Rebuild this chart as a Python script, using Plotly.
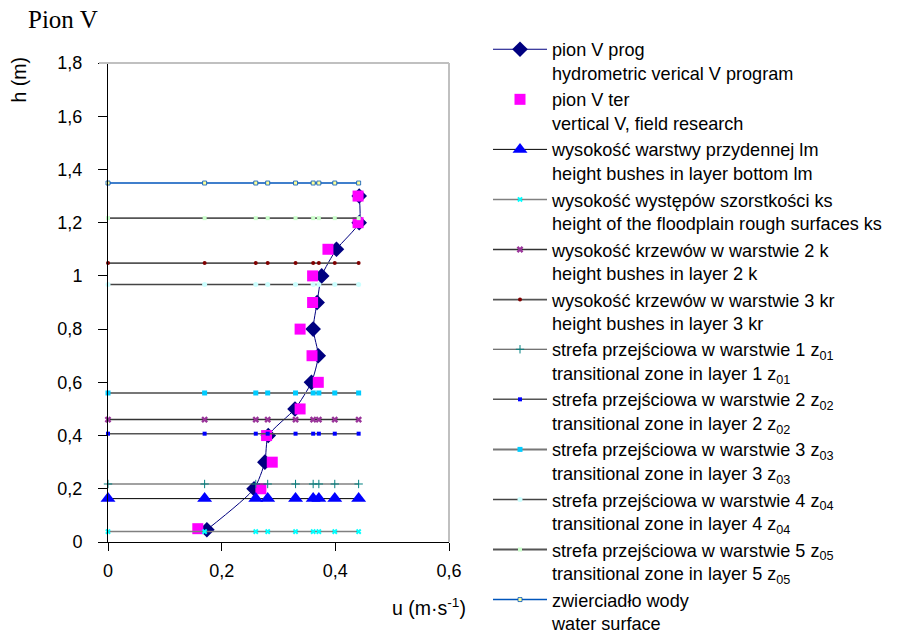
import plotly.graph_objects as go

# ---- data ----
u_levels = [0, 0.17, 0.26, 0.281, 0.33, 0.361, 0.371, 0.399, 0.441]

prog_u = [0.174, 0.257, 0.276, 0.282, 0.329, 0.358, 0.370, 0.361, 0.368, 0.376, 0.402, 0.442, 0.442]
prog_h = [0.046, 0.2, 0.3, 0.4, 0.5, 0.6, 0.7, 0.8, 0.9, 1.0, 1.1, 1.2, 1.3]

ter_u = [0.158, 0.269, 0.289, 0.279, 0.338, 0.370, 0.359, 0.338, 0.360, 0.360, 0.387, 0.440, 0.440]
ter_h = [0.05, 0.2, 0.3, 0.4, 0.5, 0.6, 0.7, 0.8, 0.9, 1.0, 1.1, 1.2, 1.3]

h_lm = 0.163
h_ks = 0.039
h_k = 0.46
h_kr = 1.048
h_z01 = 0.218
h_z02 = 0.407
h_z03 = 0.56
h_z04 = 0.968
h_z05 = 1.217
h_water = 1.349

x_ticks = [0, 0.2, 0.4, 0.6]
y_ticks = [0, 0.2, 0.4, 0.6, 0.8, 1.0, 1.2, 1.4, 1.6, 1.8]

FONT = "Liberation Sans, Arial, sans-serif"
LEG_FONT = 18.1

fig = go.Figure()

fig.add_trace(go.Scatter(
    x=prog_u, y=prog_h, mode="lines+markers",
    name="pion V prog<br>hydrometric verical V program",
    line=dict(color="#000080", width=1, shape="spline", smoothing=0.6),
    marker=dict(symbol="diamond", size=12, color="#000080"),
    cliponaxis=False, legend="legend"))

fig.add_trace(go.Scatter(
    x=ter_u, y=ter_h, mode="markers",
    name="pion V ter<br>vertical V, field research",
    marker=dict(symbol="square", size=11, color="#ff00ff"),
    cliponaxis=False, legend="legend"))

levels = [
    (h_lm, "wysokość warstwy przydennej lm<br>height bushes in layer bottom lm",
     "#000000", 1, dict(symbol="triangle-up", size=13, color="#0000ff")),
    (h_ks, "wysokość występów szorstkości ks<br>height of the floodplain rough surfaces ks",
     "#808080", 1.5, dict(symbol="x", size=5, color="#00ffff")),
    (h_k, "wysokość krzewów w warstwie 2 k<br>height bushes in layer 2 k",
     "#333333", 1.5, dict(symbol="x", size=6, color="#993399")),
    (h_kr, "wysokość krzewów w warstwie 3 kr<br>height bushes in layer 3 kr",
     "#555555", 1.8, dict(symbol="circle", size=4, color="#800000")),
    (h_z01, "strefa przejściowa w warstwie 1 z<sub>01</sub><br>transitional zone in layer 1 z<sub>01</sub>",
     "#444444", 1.2, dict(symbol="cross-thin", size=6, color="#008080", line=dict(color="#008080", width=1))),
    (h_z02, "strefa przejściowa w warstwie 2 z<sub>02</sub><br>transitional zone in layer 2 z<sub>02</sub>",
     "#555555", 1.5, dict(symbol="square", size=4, color="#0000ff")),
    (h_z03, "strefa przejściowa w warstwie 3 z<sub>03</sub><br>transitional zone in layer 3 z<sub>03</sub>",
     "#777777", 2, dict(symbol="square", size=5, color="#00ccff")),
    (h_z04, "strefa przejściowa w warstwie 4 z<sub>04</sub><br>transitional zone in layer 4 z<sub>04</sub>",
     "#444444", 1.5, dict(symbol="circle", size=5, color="#ccffff")),
    (h_z05, "strefa przejściowa w warstwie 5 z<sub>05</sub><br>transitional zone in layer 5 z<sub>05</sub>",
     "#555555", 1.8, dict(symbol="square", size=4, color="#ccffcc")),
    (h_water, "zwierciadło wody<br>water surface",
     "#0055bb", 1.5, dict(symbol="square", size=4, color="#ffff99", line=dict(color="#0055bb", width=0.8))),
]

for i, (h, name, lc, lw, mk) in enumerate(levels):
    fig.add_trace(go.Scatter(
        x=u_levels, y=[h] * len(u_levels), mode="lines+markers", name=name,
        line=dict(color=lc, width=lw), marker=mk, cliponaxis=False,
        legend="legend" if i < 4 else "legend2"))

W, H = 918, 634
L, R, T, B = 108, 469, 63, 92
pw, ph = W - L - R, H - T - B

def px_x(px):
    return (px - L) / pw

def px_y(py):
    return (H - B - py) / ph

axis_common = dict(
    showgrid=False, zeroline=False, showline=True, linecolor="black", linewidth=1,
    ticks="outside", tickcolor="black", tickwidth=1,
    tickfont=dict(family=FONT, size=18, color="black"), fixedrange=True,
)

def leg(top_px):
    return dict(xref="container", yref="container", x=488 / W, y=1 - top_px / H,
                xanchor="left", yanchor="top", valign="top", itemwidth=54,
                font=dict(family=FONT, size=LEG_FONT, color="black"),
                bgcolor="rgba(0,0,0,0)", borderwidth=0, tracegroupgap=0)

fig.update_layout(
    width=W, height=H,
    margin=dict(l=L, r=R, t=T, b=B),
    paper_bgcolor="white", plot_bgcolor="white",
    separators=",.",
    font=dict(family=FONT, color="black"),
    xaxis=dict(range=[0, 0.6], tickvals=x_ticks, ticklen=8, ticklabelstandoff=4, **axis_common),
    yaxis=dict(range=[0, 1.8], tickvals=y_ticks, ticklen=9, ticklabelstandoff=12, **axis_common),
    title=dict(text="Pion V", xref="container", yref="container", x=28 / W, xanchor="left",
               y=1 - 19 / H, yanchor="middle",
               font=dict(family="Liberation Serif, Times New Roman, serif", size=25, color="black")),
    showlegend=True,
    legend=leg(31),
    legend2=leg(331),
    shapes=[
        dict(type="line", xref="paper", yref="paper", x0=px_x(99), x1=1, y0=1, y1=1,
             line=dict(color="#c0c0c0", width=2)),
        dict(type="line", xref="paper", yref="paper", x0=1, x1=1, y0=0, y1=1,
             line=dict(color="#c0c0c0", width=2)),
    ],
    annotations=[
        dict(text="h (m)", xref="paper", yref="paper", x=px_x(18.5), y=px_y(80),
             textangle=-90, showarrow=False, xanchor="center", yanchor="middle",
             font=dict(family=FONT, size=19.5, color="black")),
        dict(text="u (m·s<sup>-1</sup>)", xref="paper", yref="paper", x=px_x(429), y=px_y(607),
             showarrow=False, xanchor="center", yanchor="middle",
             font=dict(family=FONT, size=19.5, color="black")),
    ],
)

try:
    fig.update_layout(legend_maxheight=700, legend2_maxheight=700)
except Exception:
    pass

fig.write_html("out.html")
